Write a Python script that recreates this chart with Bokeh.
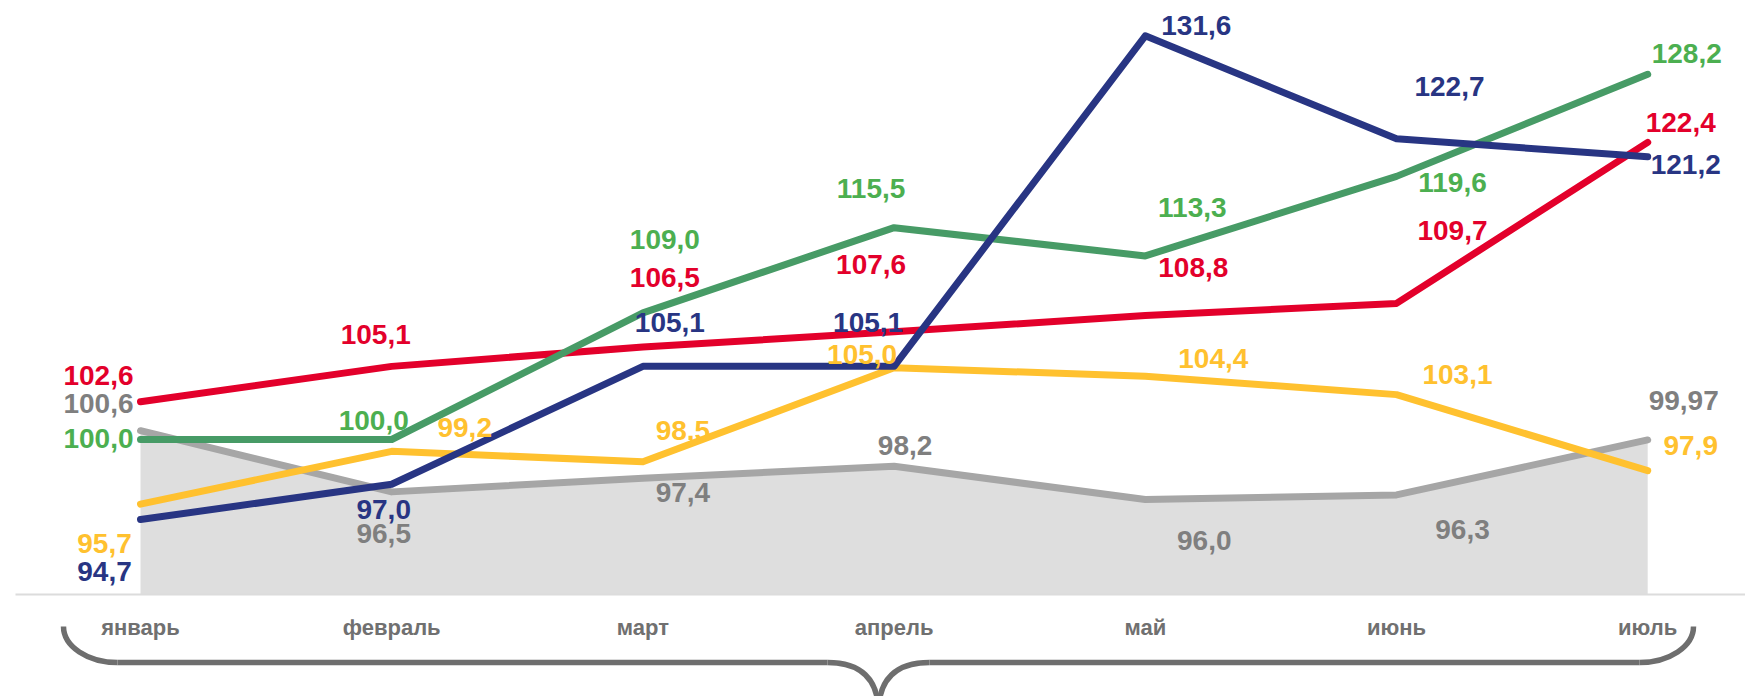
from bokeh.plotting import figure
from bokeh.models import Range1d, ColumnDataSource
from bokeh.core.properties import value
from bokeh.embed import file_html
from bokeh.resources import INLINE

# ---- data ----
months = ["январь", "февраль", "март", "апрель", "май", "июнь", "июль"]
red = [102.6, 105.1, 106.5, 107.6, 108.8, 109.7, 122.4]
green = [100.0, 100.0, 109.0, 115.5, 113.3, 119.6, 128.2]
blue = [94.7, 97.0, 105.1, 105.1, 131.6, 122.7, 121.2]
yellow = [95.7, 99.2, 98.5, 105.0, 104.4, 103.1, 97.9]
gray = [100.6, 96.5, 97.4, 98.2, 96.0, 96.3, 99.97]
gray_labels = ["100,6", "96,5", "97,4", "98,2", "96,0", "96,3", "99,97"]
base_value = 90.0

# ---- layout helpers (page pixel -> data) ----
X0, DX = 140.0, 251.2      # page x of first month, spacing
Y100, K = 439.0, 3385.0    # page y of value 100, px per decade
ORIGIN = 0                 # page offset of the figure


def px_to_x(px):
    return (px - X0) / DX


def px_to_v(py):
    return 100.0 * 10 ** (-(py - Y100) / K)


W, H = 1745, 696
p = figure(width=W, height=H, output_backend="svg", toolbar_location=None,
           x_range=Range1d(px_to_x(ORIGIN), px_to_x(ORIGIN + W)),
           y_range=Range1d(px_to_v(ORIGIN + H), px_to_v(ORIGIN)),
           y_axis_type="log", x_axis_location=None, y_axis_location=None,
           min_border=0, min_border_left=0, min_border_right=0,
           min_border_top=0, min_border_bottom=0)
p.outline_line_color = None
p.grid.visible = False
p.background_fill_color = "white"

xs = list(range(len(months)))

# gray area
p.varea(x=xs, y1=[base_value] * len(xs), y2=gray, fill_color="#DEDEDE")
# baseline
p.line(x=[px_to_x(15), px_to_x(1745)], y=[base_value, base_value],
       line_color="#DCDCDC", line_width=2)

series = [
    (gray, "#A6A6A6", "#7F7F7F", gray_labels,
     [(-42, -27), (-8, 42), (40, 14), (11, -21), (59, 41), (66, 35), (36, -39)]),
    (yellow, "#FFC12F", "#FFC12F", None,
     [(-36, 39), (73, -24), (40, -31), (-32, -13), (68, -18), (61, -20), (43, -25)]),
    (red, "#E3002B", "#E3002B", None,
     [(-42, -26), (-16, -32), (22, -69), (-23, -67), (48, -48), (56, -73), (33, -20)]),
    (green, "#479B66", "#4CAF50", None,
     [(-42, -1), (-18, -19), (22, -73), (-23, -39), (47, -48), (56, 6), (39, -21)]),
    (blue, "#283583", "#283583", None,
     [(-36, 52), (-8, 25), (27, -44), (-26, -44), (51, -10), (53, -52), (38, 8)]),
]

for vals, lc, tc, labs, offs in series:
    p.line(x=xs, y=vals, line_color=lc, line_width=7, line_cap="round",
           line_join="round")

for vals, lc, tc, labs, offs in series:
    if labs is None:
        labs = [f"{v:.1f}".replace(".", ",") for v in vals]
    src = ColumnDataSource(dict(x=xs, y=vals, t=labs,
                                dx=[o[0] for o in offs], dy=[o[1] for o in offs]))
    p.text(x="x", y="y", text="t", x_offset="dx", y_offset="dy", source=src,
           text_color=tc, text_font=value("Liberation Sans"),
           text_font_style="bold", text_font_size=value("28px"),
           text_align="center", text_baseline="middle")

# month labels
p.text(x=xs, y=[px_to_v(627)] * len(xs), text=months, text_color="#707070",
       text_font=value("Liberation Sans"), text_font_style="bold",
       text_font_size=value("22px"), text_align="center",
       text_baseline="middle")

# bracket
bc = "#6E6E6E"
bw = 5.5
L, R, C = 63.0, 1693.0, 878.0
TOP, HY, TIP = 626.0, 662.0, 712.0
rx, ry = 54.0, HY - TOP
k = 0.552
p.bezier(x0=[px_to_x(L), px_to_x(R)],
         y0=[px_to_v(TOP), px_to_v(TOP)],
         x1=[px_to_x(L + rx), px_to_x(R - rx)],
         y1=[px_to_v(HY), px_to_v(HY)],
         cx0=[px_to_x(L), px_to_x(R)],
         cy0=[px_to_v(TOP + k * ry), px_to_v(TOP + k * ry)],
         cx1=[px_to_x(L + rx - k * rx), px_to_x(R - rx + k * rx)],
         cy1=[px_to_v(HY), px_to_v(HY)],
         line_color=bc, line_width=bw)
p.multi_line(xs=[[px_to_x(L + rx), px_to_x(C - 51)],
                 [px_to_x(C + 51), px_to_x(R - rx)]],
             ys=[[px_to_v(HY), px_to_v(HY)], [px_to_v(HY), px_to_v(HY)]],
             line_color=bc, line_width=bw)
p.bezier(x0=[px_to_x(C - 51), px_to_x(C + 51)],
         y0=[px_to_v(HY), px_to_v(HY)],
         x1=[px_to_x(C), px_to_x(C)],
         y1=[px_to_v(TIP), px_to_v(TIP)],
         cx0=[px_to_x(C - 18), px_to_x(C + 18)],
         cy0=[px_to_v(HY), px_to_v(HY)],
         cx1=[px_to_x(C), px_to_x(C)],
         cy1=[px_to_v(HY + 16), px_to_v(HY + 16)],
         line_color=bc, line_width=bw)

open("out.html", "w").write(file_html(p, INLINE))
